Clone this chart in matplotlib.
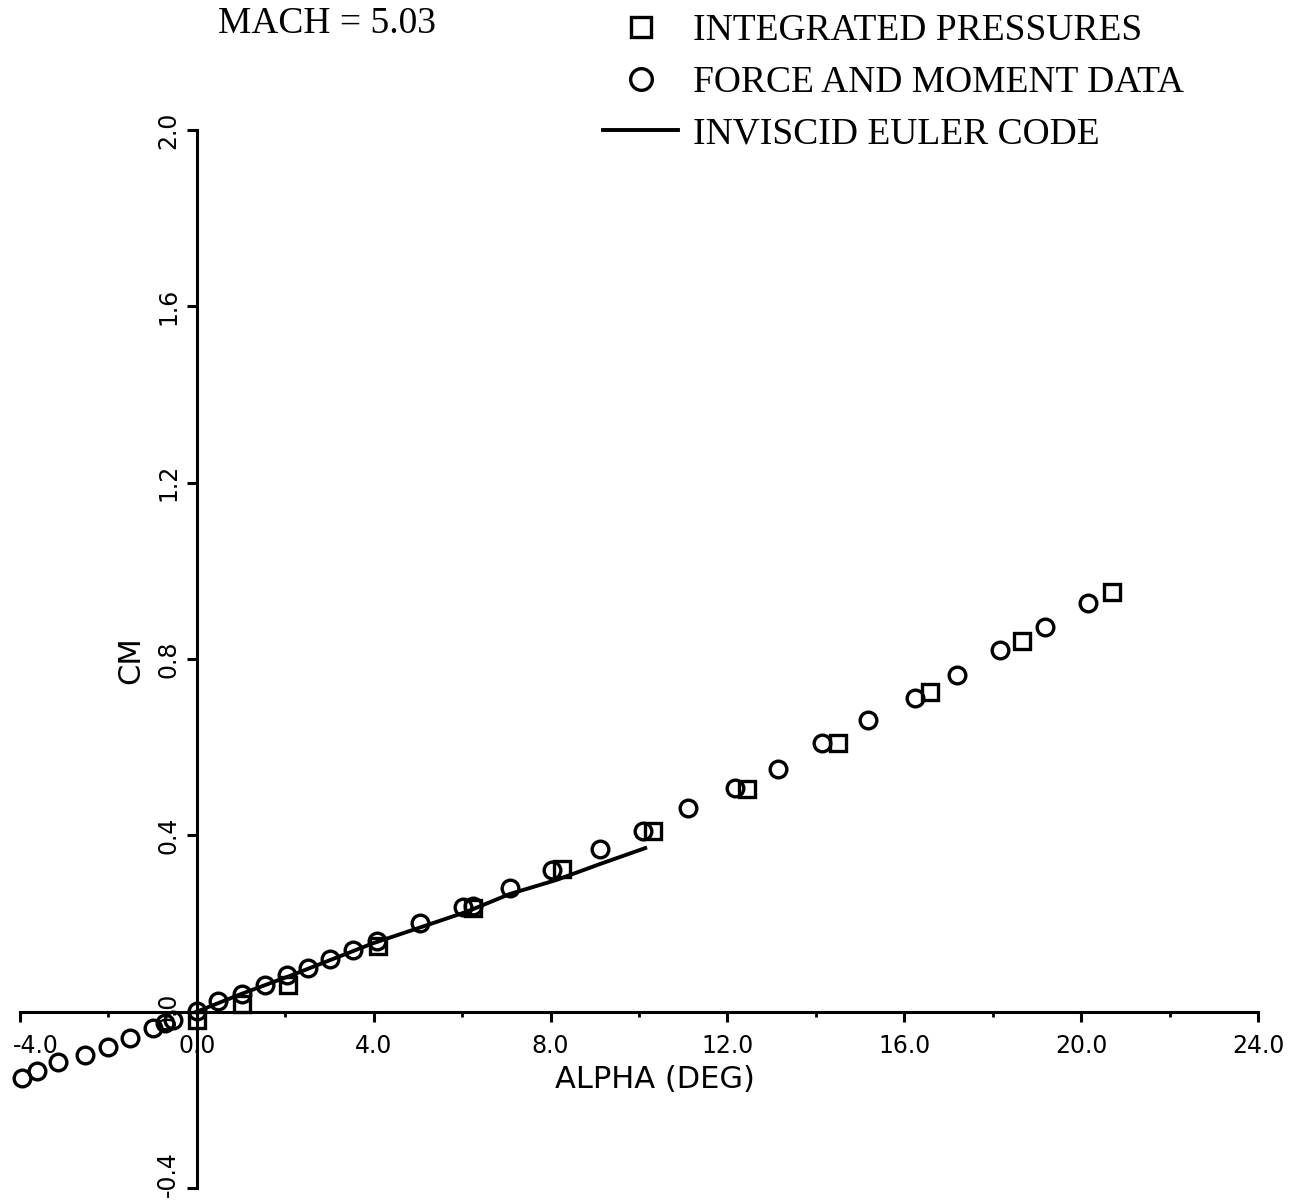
import matplotlib
matplotlib.use("Agg")
import matplotlib.pyplot as plt
import matplotlib.transforms as mtransforms
from matplotlib.ticker import FixedLocator

# Force and moment balance data: angle of attack (deg) vs pitching moment coefficient
alpha_force = [-3.96, -3.62, -3.14, -2.53, -2.01, -1.52, -1.00, -0.72, -0.54,
               0.0, 0.48, 1.02, 1.54, 2.04, 2.51, 3.01, 3.53, 4.07, 5.05,
               6.02, 6.24, 7.08, 8.03, 9.12, 10.09, 11.11, 12.17, 13.14,
               14.14, 15.18, 16.24, 17.19, 18.17, 19.19, 20.16]
cm_force = [-0.150, -0.134, -0.115, -0.098, -0.081, -0.060, -0.038, -0.025, -0.020,
            0.002, 0.024, 0.041, 0.060, 0.083, 0.100, 0.119, 0.141, 0.160, 0.202,
            0.238, 0.239, 0.281, 0.322, 0.369, 0.409, 0.461, 0.508, 0.551,
            0.610, 0.661, 0.711, 0.763, 0.821, 0.873, 0.927]

# Integrated surface pressures
alpha_press = [0.0, 1.02, 2.06, 4.10, 6.24, 8.26, 10.32, 12.44, 14.50,
               16.58, 18.67, 20.70]
cm_press = [-0.018, 0.018, 0.061, 0.149, 0.236, 0.323, 0.410, 0.504, 0.610,
            0.725, 0.840, 0.951]

# Inviscid Euler code solution
alpha_euler = [0.0, 1.0, 2.10, 3.98, 5.05, 6.11, 7.08, 8.14, 9.12, 10.14]
cm_euler = [0.0, 0.040, 0.081, 0.155, 0.191, 0.227, 0.267, 0.299, 0.335, 0.371]

x_major = [-4, 0, 4, 8, 12, 16, 20, 24]
x_minor = [-2, 2, 6, 10, 14, 18, 22]
x_labels = ["-4.0", "0.0", "4.0", "8.0", "12.0", "16.0", "20.0", "24.0"]
y_major = [-0.4, 0.0, 0.4, 0.8, 1.2, 1.6, 2.0]
y_labels = ["-0.4", "0.0", "0.4", "0.8", "1.2", "1.6", "2.0"]

W, H = 1311, 1204
fig = plt.figure(figsize=(W / 100, H / 100), dpi=100)
fig.patch.set_facecolor("white")

# axes placed so that x=-4..24 spans px 20..1258 and y=-0.4..2.0 spans py 1188..130
left, right = 20 / W, 1258 / W
bottom, top = 1 - 1188 / H, 1 - 130 / H
ax = fig.add_axes([left, bottom, right - left, top - bottom])
ax.set_xlim(-4, 24)
ax.set_ylim(-0.4, 2.0)
ax.set_facecolor("none")

for side in ("top", "right"):
    ax.spines[side].set_visible(False)
ax.spines["left"].set_position(("data", 0))
ax.spines["bottom"].set_position(("data", 0))
for side in ("left", "bottom"):
    ax.spines[side].set_linewidth(2.2)
    ax.spines[side].set_color("black")

ax.xaxis.set_major_locator(FixedLocator(x_major))
ax.xaxis.set_minor_locator(FixedLocator(x_minor))
ax.set_xticklabels(x_labels)
ax.yaxis.set_major_locator(FixedLocator(y_major))
ax.set_yticklabels(y_labels)

ax.tick_params(axis="x", which="major", direction="out", length=7, width=2.2,
               pad=9, labelsize=17)
ax.tick_params(axis="x", which="minor", direction="out", length=3.5, width=2.0)
ax.tick_params(axis="y", which="major", direction="out", length=7, width=2.2,
               pad=5, labelsize=17)
for lab in ax.get_yticklabels():
    lab.set_rotation(90)
    lab.set_va("center")
for lab in ax.get_xticklabels() + ax.get_yticklabels():
    lab.set_family("DejaVu Sans")

# keep the end labels inside the figure
xl = ax.get_xticklabels()[0]
xl.set_transform(xl.get_transform() +
                 mtransforms.ScaledTranslation(16 / 100, 0, fig.dpi_scale_trans))
yl = ax.get_yticklabels()[0]
yl.set_transform(yl.get_transform() +
                 mtransforms.ScaledTranslation(0, 14 / 100, fig.dpi_scale_trans))

# data
ax.plot(alpha_press, cm_press, linestyle="none", marker="s", markersize=11,
        markerfacecolor="none", markeredgecolor="black", markeredgewidth=2.4,
        clip_on=False, label="INTEGRATED PRESSURES", zorder=3)
ax.plot(alpha_force, cm_force, linestyle="none", marker="o", markersize=12,
        markerfacecolor="none", markeredgecolor="black", markeredgewidth=2.4,
        clip_on=False, label="FORCE AND MOMENT DATA", zorder=3)
ax.plot(alpha_euler, cm_euler, color="black", linewidth=2.8,
        label="INVISCID EULER CODE", zorder=2)

# axis titles
fig.text(655 / W, 1 - 1080 / H, "ALPHA (DEG)", family="DejaVu Sans", size=22,
         ha="center", va="center")
fig.text(131 / W, 1 - 660 / H, "CM", family="DejaVu Sans", size=22,
         rotation=90, ha="center", va="center")

fig.text(218 / W, 1 - 24 / H, "MACH = 5.03", family="Liberation Serif",
         size=27, ha="left", va="center")

leg = ax.legend(loc="upper left", bbox_to_anchor=(603 / W, 1 - 14 / H),
                bbox_transform=fig.transFigure, frameon=False,
                prop=dict(family="Liberation Serif", size=27),
                handlelength=2.0, handletextpad=0.4, labelspacing=0.45,
                borderpad=0, borderaxespad=0, markerscale=1.3)

fig.savefig("out.png", dpi=100, facecolor="white")
